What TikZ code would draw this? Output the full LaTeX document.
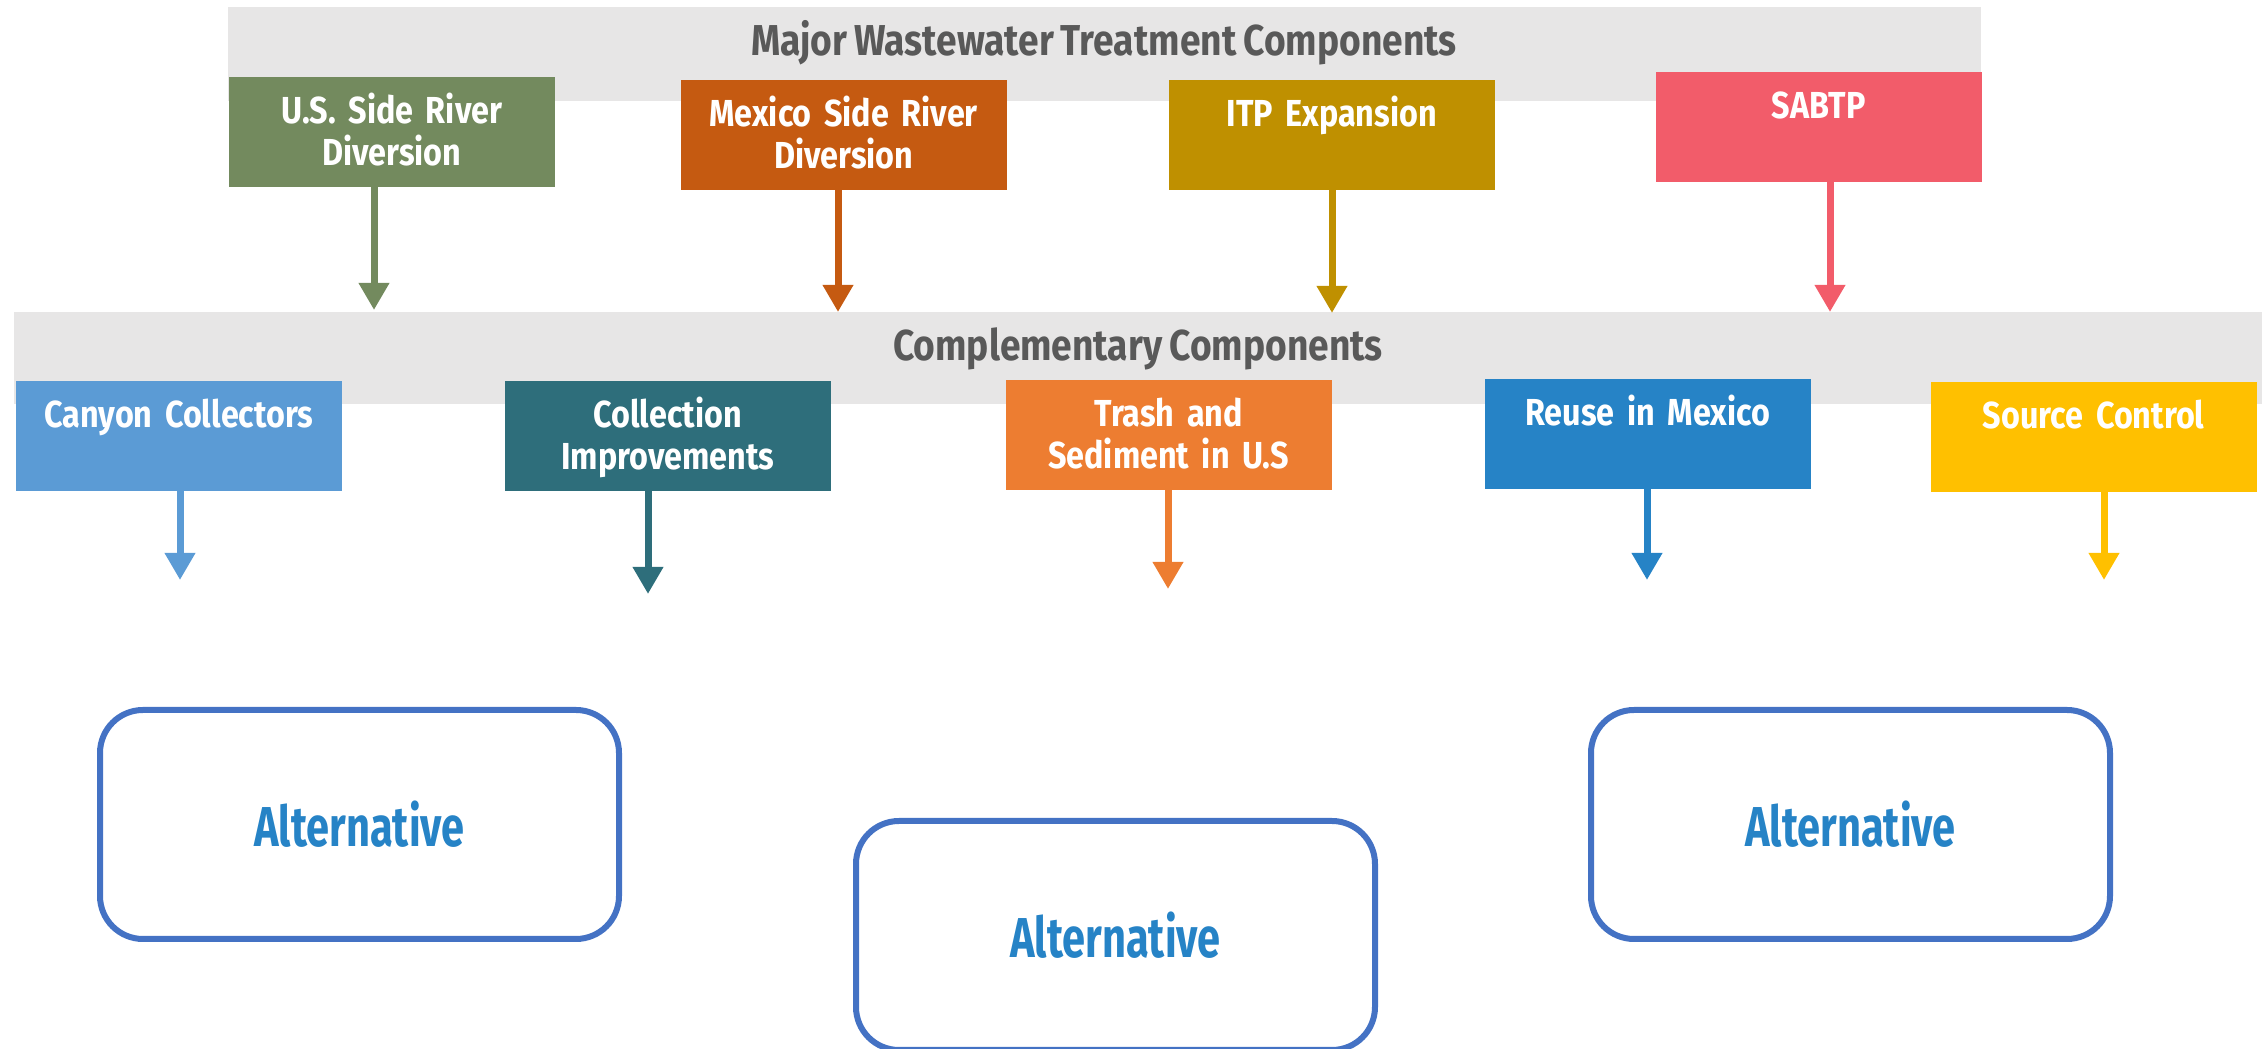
\documentclass[tikz,border=0pt]{standalone}
\usepackage{fontspec}
\setmainfont{Fira Sans}[FakeStretch=0.86, WordSpace=0.8]
\newfontfamily\altfont{Fira Sans}[FakeStretch=0.74]
\usetikzlibrary{arrows.meta}
\definecolor{bandgray}{HTML}{E7E6E6}
\definecolor{titlegray}{HTML}{595959}
\definecolor{usgreen}{HTML}{738A5E}
\definecolor{mxorange}{HTML}{C55A11}
\definecolor{itpgold}{HTML}{BF9000}
\definecolor{sabred}{HTML}{F25C6A}
\definecolor{canblue}{HTML}{5B9BD5}
\definecolor{colteal}{HTML}{2E6E7B}
\definecolor{trorange}{HTML}{ED7D31}
\definecolor{reblue}{HTML}{2683C6}
\definecolor{srcgold}{HTML}{FFC000}
\definecolor{altblue}{HTML}{4472C4}
\tikzset{title/.style = {text=titlegray, font=\bfseries\fontsize{12.3}{15}\selectfont}}
\tikzset{comp/.style = {fill=#1, anchor=north west, text=white,
                        minimum width=3.26cm, minimum height=1.1cm,
                        text width=3.1cm, align=center, inner xsep=0.08cm, inner ysep=0,
                        text height=0.47cm, text depth=0.63cm,
                        font=\bfseries\fontsize{10.7}{12}\selectfont}}
\tikzset{arr/.style = {draw=#1, line width=0.07cm,
                       -{Triangle[width=0.29cm, length=0.27cm]}}}
\tikzset{alt/.style = {draw=altblue, line width=0.06cm, rounded corners=0.43cm,
                       minimum width=5.19cm, minimum height=2.29cm,
                       text=reblue, font=\altfont\bfseries\fontsize{16}{19}\selectfont}}

\begin{document}
\begin{tikzpicture}
      \useasboundingbox (0, 0) rectangle (22.62, -10.49);

      % bands
      \fill [bandgray] (2.28, -0.07) rectangle (19.81, -1.01);
      \fill [bandgray] (0.14, -3.12) rectangle (22.62, -4.045);
      \node [title] (major) at (11.04, -0.43) {Major Wastewater Treatment Components};
      \node [title] (compl) at (11.38, -3.49) {Complementary Components};

      % major components
      \node [comp=usgreen] (us) at (2.28, -0.76) {U.S. Side River\\Diversion};
      \node [comp=mxorange] (mx) at (6.80, -0.79) {Mexico Side River\\Diversion};
      \node [comp=itpgold] (itp) at (11.68, -0.79) {ITP Expansion};
      \node [comp=sabred] (sab) at (16.55, -0.71) {SABTP};

      \coordinate (usT) at (3.74, -3.10);
      \coordinate (mxT) at (8.38, -3.12);
      \coordinate (itpT) at (13.32, -3.13);
      \coordinate (sabT) at (18.30, -3.12);
      \draw [arr=usgreen] (usT |- us.south) -- (usT);
      \draw [arr=mxorange] (mxT |- mx.south) -- (mxT);
      \draw [arr=itpgold] (itpT |- itp.south) -- (itpT);
      \draw [arr=sabred] (sabT |- sab.south) -- (sabT);

      % complementary components
      \node [comp=canblue] (can) at (0.15, -3.80) {Canyon Collectors};
      \node [comp=colteal] (col) at (5.04, -3.80) {Collection\\Improvements};
      \node [comp=trorange] (tra) at (10.05, -3.79) {Trash and\\Sediment in U.S};
      \node [comp=reblue] (reu) at (14.84, -3.78) {Reuse in Mexico};
      \node [comp=srcgold] (src) at (19.30, -3.81) {Source Control};

      \coordinate (canT) at (1.80, -5.80);
      \coordinate (colT) at (6.48, -5.94);
      \coordinate (traT) at (11.68, -5.89);
      \coordinate (reuT) at (16.47, -5.80);
      \coordinate (srcT) at (21.04, -5.80);
      \draw [arr=canblue] (canT |- can.south) -- (canT);
      \draw [arr=colteal] (colT |- col.south) -- (colT);
      \draw [arr=trorange] (traT |- tra.south) -- (traT);
      \draw [arr=reblue] (reuT |- reu.south) -- (reuT);
      \draw [arr=srcgold] (srcT |- src.south) -- (srcT);

      % alternatives
      \node [alt] (altA) at (3.595, -8.245) {Alternative};
      \node [alt] (altB) at (11.155, -9.355) {Alternative};
      \node [alt] (altC) at (18.505, -8.245) {Alternative};
    \end{tikzpicture}
\end{document}
